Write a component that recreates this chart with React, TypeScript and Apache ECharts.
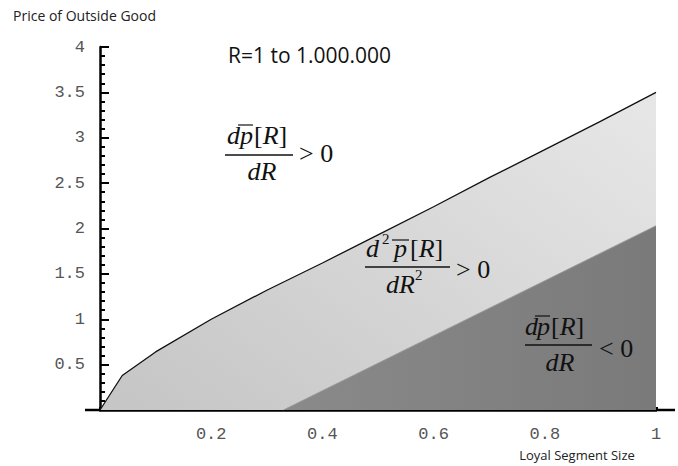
import React, { useEffect, useRef } from "react";
import * as echarts from "echarts";

// Upper boundary of the light region (dp/dR > 0 above, d2p/dR2 > 0 below)
const upperX = [0, 0.04, 0.1, 0.2, 0.3, 0.4, 0.5, 0.6, 0.7, 0.8, 0.9, 1.0];
const upperY = [0, 0.38, 0.64, 1.0, 1.32, 1.62, 1.93, 2.24, 2.56, 2.87, 3.18, 3.5];
// Upper boundary of the dark region (dp/dR < 0)
const lowerX = [0.33, 1.0];
const lowerY = [0, 2.03];

const xLabels = ["0.2", "0.4", "0.6", "0.8", "1"];
const yLabels = ["0.5", "1", "1.5", "2", "2.5", "3", "3.5", "4"];

const titleText = "R=1 to 1.000.000";
const xName = "Loyal Segment Size";
const yName = "Price of Outside Good";

const SERIF = "'Liberation Serif', 'DejaVu Serif', serif";
const MONO = "'Liberation Mono', 'DejaVu Sans Mono', monospace";
const SANS = "'Open Sans', 'Noto Sans', sans-serif";

function txt(text: string, x: number, y: number, size: number, italic: boolean, align = "left") {
  return {
    type: "text",
    x,
    y,
    z: 100,
    silent: true,
    style: {
      text,
      fontFamily: SERIF,
      fontSize: size,
      fontStyle: italic ? "italic" : "normal",
      fill: "#111",
      align,
      verticalAlign: "middle",
    },
  };
}
function hline(x1: number, x2: number, y: number, w = 1.4) {
  return {
    type: "line",
    z: 100,
    silent: true,
    shape: { x1, y1: y, x2, y2: y },
    style: { stroke: "#111", lineWidth: w },
  };
}
function bracketR(x: number, y: number, size: number) {
  return {
    type: "text",
    x,
    y,
    z: 100,
    silent: true,
    style: {
      text: "{u|[}{i|R}{u|]}",
      fontFamily: SERIF,
      fontSize: size,
      fill: "#111",
      align: "left",
      verticalAlign: "middle",
      rich: {
        u: { fontFamily: SERIF, fontSize: size, fill: "#111" },
        i: { fontFamily: SERIF, fontSize: size, fontStyle: "italic", fill: "#111" },
      },
    },
  };
}

export default function App() {
  const ref = useRef<HTMLDivElement>(null);
  useEffect(() => {
    document.body.style.margin = "0";
    if (!ref.current) return;
    const chart = echarts.init(ref.current, null, { renderer: "svg" });
    const fs = 26;
    const option: any = {
      animation: false,
      backgroundColor: "#ffffff",
      grid: { left: 100, right: 22, top: 47, bottom: 56 },
      xAxis: {
        type: "value",
        min: 0,
        max: 1,
        interval: 0.2,
        axisLine: { show: true, lineStyle: { color: "#000", width: 2.5 } },
        axisTick: { show: true, inside: true, length: 3, lineStyle: { color: "#000", width: 3 } },
        minorTick: { show: true, splitNumber: 4, length: 3, lineStyle: { color: "#000", width: 3 } },
        splitLine: { show: false },
        axisLabel: {
          margin: 16,
          color: "#555",
          fontFamily: MONO,
          fontSize: 17,
          formatter: (v: number) => {
            const i = Math.round(v / 0.2) - 1;
            return i >= 0 && i < xLabels.length ? xLabels[i] : "";
          },
        },
      },
      yAxis: {
        type: "value",
        min: 0,
        max: 4,
        interval: 0.5,
        axisLine: { show: true, lineStyle: { color: "#000", width: 2.5 } },
        axisTick: { show: true, inside: true, length: 9, lineStyle: { color: "#000", width: 2 } },
        minorTick: { show: true, splitNumber: 5, length: 5, lineStyle: { color: "#000", width: 2 } },
        splitLine: { show: false },
        axisLabel: {
          margin: 15,
          color: "#555",
          fontFamily: MONO,
          fontSize: 17,
          formatter: (v: number) => {
            const i = Math.round(v / 0.5) - 1;
            return i >= 0 && i < yLabels.length ? yLabels[i] : "";
          },
        },
      },
      series: [
        {
          type: "line",
          data: upperX.map((x, i) => [x, upperY[i]]),
          symbol: "none",
          z: 1,
          lineStyle: { color: "#111", width: 1.3 },
          areaStyle: {
            opacity: 1,
            color: new echarts.graphic.LinearGradient(0, 0.9, 1, 0.1, [
              { offset: 0, color: "#c6c6c6" },
              { offset: 1, color: "#e6e6e6" },
            ]),
          },
        },
        {
          type: "line",
          data: lowerX.map((x, i) => [x, lowerY[i]]),
          symbol: "none",
          z: 2,
          lineStyle: { color: "#999", width: 1 },
          areaStyle: {
            opacity: 1,
            color: new echarts.graphic.LinearGradient(0, 0, 1, 0, [
              { offset: 0, color: "#8a8a8a" },
              { offset: 1, color: "#7a7a7a" },
            ]),
          },
        },
      ],
    };
    chart.setOption(option);

    const o = chart.convertToPixel({ gridIndex: 0 }, [0, 0]) as number[];
    const e = chart.convertToPixel({ gridIndex: 0 }, [1, 0]) as number[];

    const graphics: any[] = [
      {
        type: "text",
        x: 13,
        y: 15,
        z: 100,
        style: { text: yName, fontFamily: SANS, fontSize: 14, fill: "#222", align: "left", verticalAlign: "middle" },
      },
      {
        type: "text",
        x: 577,
        y: 455,
        z: 100,
        style: { text: xName, fontFamily: SANS, fontSize: 13, fill: "#222", align: "center", verticalAlign: "middle" },
      },
      {
        type: "text",
        x: 228,
        y: 55,
        z: 100,
        style: { text: titleText, fontFamily: SANS, fontSize: 21, fill: "#111", align: "left", verticalAlign: "middle" },
      },
      // axis line extensions
      {
        type: "line",
        z: 100,
        shape: { x1: o[0] - 15, y1: o[1], x2: o[0], y2: o[1] },
        style: { stroke: "#000", lineWidth: 2.5 },
      },
      {
        type: "line",
        z: 100,
        shape: { x1: e[0], y1: e[1], x2: e[0] + 19, y2: e[1] },
        style: { stroke: "#000", lineWidth: 2.5 },
      },
      // Formula 1: dp[R]/dR > 0
      txt("d", 227, 135, fs, true),
      txt("p", 240, 135, fs, true),
      bracketR(254, 135, fs),
      hline(238, 253, 125, 1.2),
      hline(225, 293, 155),
      txt("dR", 262, 171, fs, true, "center"),
      txt("> 0", 299, 153, fs, false),
      // Formula 2: d2p[R]/dR2 > 0
      txt("d", 366, 248, fs, true),
      txt("2", 382, 239, 15, false),
      txt("p", 394, 248, fs, true),
      bracketR(410, 248, fs),
      hline(392, 409, 240, 1.2),
      hline(365, 450, 267),
      txt("dR", 386, 284, fs, true),
      txt("2", 415, 275, 15, false),
      txt("> 0", 456, 269, fs, false),
      // Formula 3: dp[R]/dR < 0
      txt("d", 525, 326, fs, true),
      txt("p", 537, 326, fs, true),
      bracketR(551, 326, fs),
      hline(535, 550, 316, 1.2),
      hline(525, 592, 345),
      txt("dR", 560, 362, fs, true, "center"),
      txt("< 0", 599, 348, fs, false),
    ];
    chart.setOption({ graphic: graphics });
    return () => chart.dispose();
  }, []);
  return <div ref={ref} style={{ width: 678, height: 466 }} />;
}
